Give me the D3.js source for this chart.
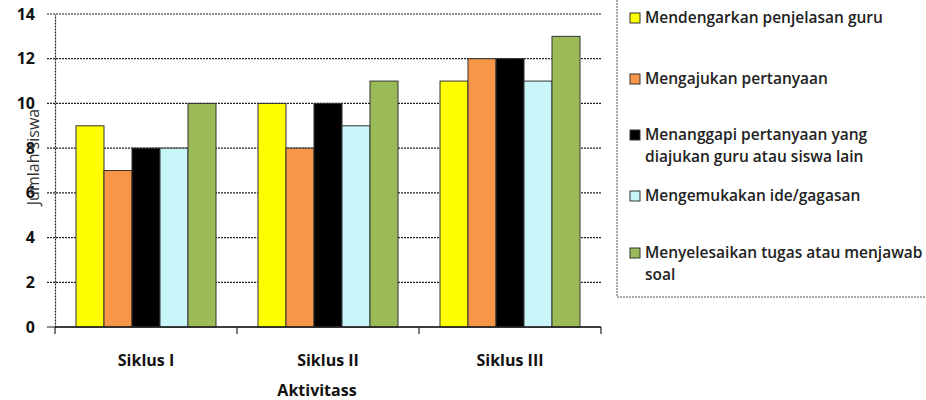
<!DOCTYPE html>
<html>
<head>
<meta charset="utf-8">
<script src="https://cdn.jsdelivr.net/npm/d3@7"></script>
<style>
  body { margin: 0; background: #fff; }
  text { font-family: "Open Sans", sans-serif; }
</style>
</head>
<body>
<script>
// data
var categories = ["Siklus I", "Siklus II", "Siklus III"];
var seriesNames = [
  "Mendengarkan penjelasan guru",
  "Mengajukan pertanyaan",
  "Menanggapi pertanyaan yang diajukan guru atau siswa lain",
  "Mengemukakan ide/gagasan",
  "Menyelesaikan tugas atau menjawab soal"
];
var mendengarkan = [9, 10, 11];
var mengajukan = [7, 8, 12];
var menanggapi = [8, 10, 12];
var mengemukakan = [8, 9, 11];
var menyelesaikan = [10, 11, 13];
var yTicks = [0, 2, 4, 6, 8, 10, 12, 14];

var seriesValues = [mendengarkan, mengajukan, menanggapi, mengemukakan, menyelesaikan];
var colors = ["#ffff00", "#f79646", "#000000", "#c9f7f9", "#9bbb59"];
// legend labels broken like the original
var legendLines = [
  ["Mendengarkan penjelasan guru"],
  ["Mengajukan pertanyaan"],
  ["Menanggapi pertanyaan yang", "diajukan guru atau siswa lain"],
  ["Mengemukakan ide/gagasan"],
  ["Menyelesaikan tugas atau menjawab", "soal"]
];

var W = 926, H = 400;
var m = {left: 55, right: 325, top: 14, bottom: 73};

var svg = d3.select("body").append("svg").attr("width", W).attr("height", H);

var x0 = d3.scaleBand().domain(categories).range([m.left, W - m.right]).paddingInner(0).paddingOuter(0);
var x1 = d3.scaleBand().domain(d3.range(seriesNames.length)).range([0, x0.bandwidth()]).paddingOuter(0.75);
var y = d3.scaleLinear().domain([0, 14]).range([H - m.bottom, m.top]);

// dashed gridlines
svg.append("g").selectAll("line").data(yTicks).enter().append("line")
  .attr("x1", m.left - 8).attr("x2", W - m.right)
  .attr("y1", function (d) { return y(d); }).attr("y2", function (d) { return y(d); })
  .attr("stroke", "#222").attr("stroke-width", 1.2)
  .attr("stroke-dasharray", function (d) { return d === 0 ? null : "2,1"; });

// bars
var groups = svg.append("g").selectAll("g").data(seriesValues).enter().append("g")
  .attr("fill", function (d, i) { return colors[i]; });
groups.each(function (vals, si) {
  d3.select(this).selectAll("rect").data(vals).enter().append("rect")
    .attr("x", function (d, ci) { return x0(categories[ci]) + x1(si); })
    .attr("width", x1.bandwidth())
    .attr("y", function (d) { return y(d); })
    .attr("height", function (d) { return y(0) - y(d); })
    .attr("stroke", "#333").attr("stroke-width", 1);
});

// y axis
var yAxis = d3.axisLeft(y).tickValues(yTicks).tickSize(0).tickPadding(20);
var gy = svg.append("g").attr("transform", "translate(" + m.left + ",0)").call(yAxis);
gy.select(".domain").attr("stroke", "#222").attr("stroke-width", 1.2).attr("stroke-dasharray", "2,1");
gy.selectAll("text").attr("font-size", 16).attr("font-weight", 700).attr("fill", "#111");

// x axis with ticks at category edges
var xAxisY = y(0);
svg.append("line").attr("x1", m.left).attr("x2", W - m.right)
  .attr("y1", xAxisY).attr("y2", xAxisY).attr("stroke", "#222").attr("stroke-width", 1.4);
var edges = categories.map(function (c) { return x0(c); }).concat([W - m.right]);
svg.append("g").selectAll("line").data(edges).enter().append("line")
  .attr("x1", function (d) { return d; }).attr("x2", function (d) { return d; })
  .attr("y1", xAxisY).attr("y2", xAxisY + 7).attr("stroke", "#222").attr("stroke-width", 1.2);
svg.append("g").selectAll("text").data(categories).enter().append("text")
  .attr("x", function (d) { return x0(d) + x0.bandwidth() / 2; })
  .attr("y", 366).attr("text-anchor", "middle")
  .attr("font-size", 16).attr("font-weight", 700).attr("fill", "#111")
  .text(function (d) { return d; });

// axis titles
svg.append("text").attr("x", 317).attr("y", 396).attr("text-anchor", "middle")
  .attr("font-size", 16).attr("font-weight", 700).attr("fill", "#111").text("Aktivitass");
svg.append("text").attr("transform", "translate(39,157) rotate(-90)").attr("text-anchor", "middle")
  .attr("font-size", 16).attr("fill", "#333").text("Jumlah siswa");

// legend
var lg = svg.append("g");
lg.append("rect").attr("x", 617).attr("y", -2).attr("width", 330).attr("height", 299)
  .attr("fill", "none").attr("stroke", "#555").attr("stroke-dasharray", "2,1");
var legendY = [18, 79, 135, 196, 253];
legendLines.forEach(function (lines, i) {
  lg.append("rect").attr("x", 630).attr("y", legendY[i] - 5).attr("width", 10).attr("height", 10)
    .attr("fill", colors[i]).attr("stroke", "#333").attr("stroke-width", 1);
  lines.forEach(function (t, k) {
    lg.append("text").attr("x", 645).attr("y", legendY[i] + 5 + k * 22)
      .attr("font-size", 15.5).attr("font-weight", 600).attr("fill", "#222").text(t);
  });
});
</script>
</body>
</html>
